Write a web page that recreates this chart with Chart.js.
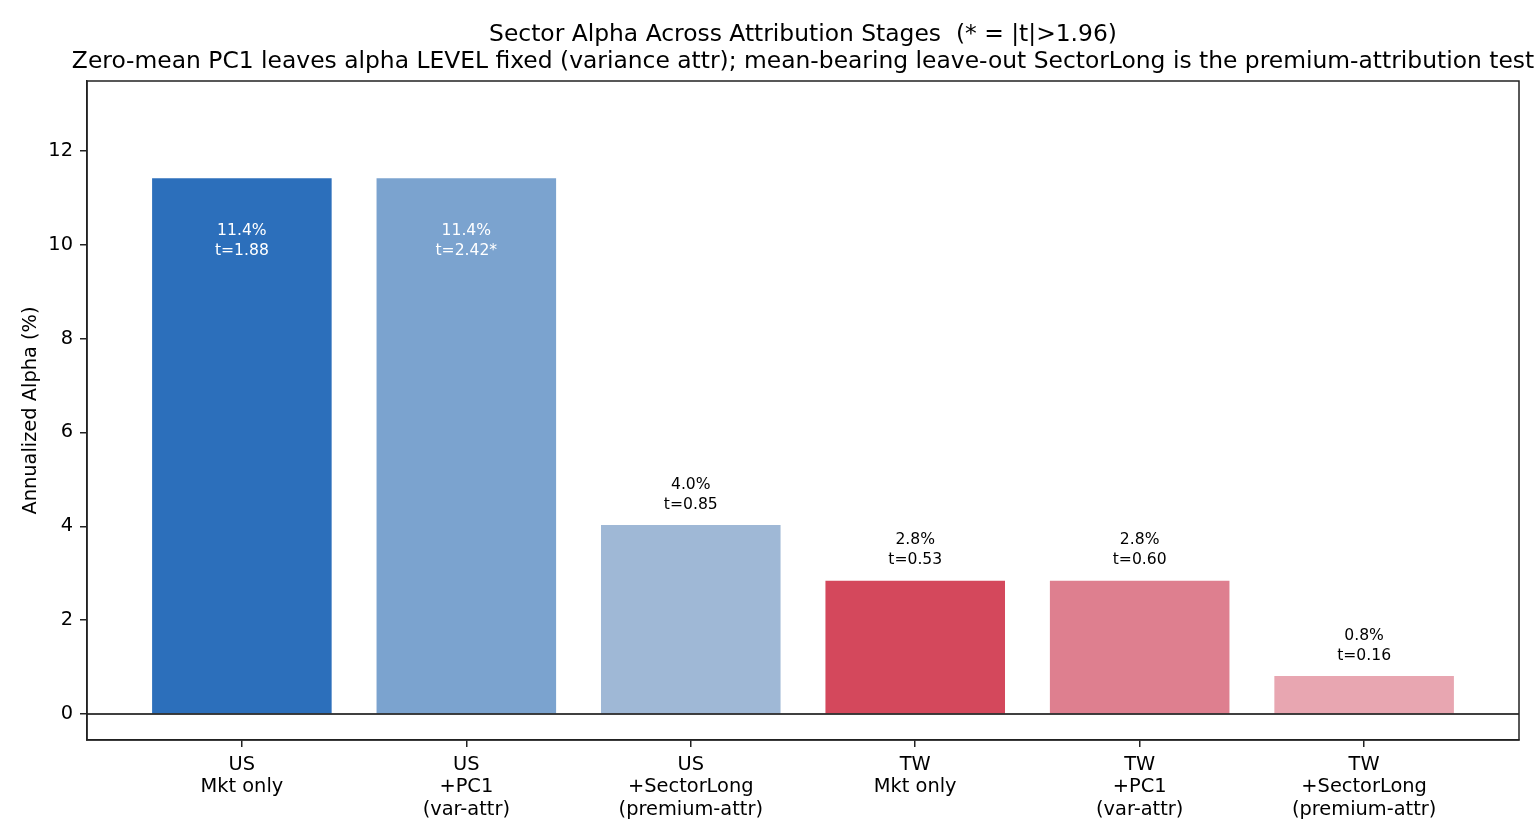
<!DOCTYPE html>
<html>
<head>
<meta charset="utf-8">
<script src="https://cdn.jsdelivr.net/npm/chart.js@4.4.1/dist/chart.umd.min.js"></script>
<style>
  html, body { margin: 0; padding: 0; background: #fff; }
  canvas { display: block; }
</style>
</head>
<body>
<canvas id="alphaChart" width="1540" height="840"></canvas>
<script>
// data
const stageLabels = [
  ['US', 'Mkt only'],
  ['US', '+PC1', '(var-attr)'],
  ['US', '+SectorLong', '(premium-attr)'],
  ['TW', 'Mkt only'],
  ['TW', '+PC1', '(var-attr)'],
  ['TW', '+SectorLong', '(premium-attr)']
];
const alphaValues = [11.42, 11.42, 4.03, 2.84, 2.84, 0.81];
const tStats = [1.88, 2.42, 0.85, 0.53, 0.60, 0.16];
const barColors = ['#2c6fbb', '#7ba3cf', '#9fb8d6', '#d4485c', '#de7f8f', '#e8a6b1'];
const yTicks = [0, 2, 4, 6, 8, 10, 12];
const titleLines = [
  'Sector Alpha Across Attribution Stages  (* = |t|>1.96)',
  'Zero-mean PC1 leaves alpha LEVEL fixed (variance attr); mean-bearing leave-out SectorLong is the premium-attribution test'
];

const FONT = 'DejaVu Sans';

// two-line title centred over the axes (allowed to run past the plot edges)
const axesTitle = {
  id: 'axesTitle',
  afterDraw(chart) {
    const ctx = chart.ctx;
    const a = chart.chartArea;
    const cx = (a.left + a.right) / 2;
    ctx.save();
    ctx.font = '23.4px "' + FONT + '"';
    ctx.fillStyle = '#000';
    ctx.textAlign = 'center';
    ctx.textBaseline = 'middle';
    ctx.fillText(titleLines[0], cx, a.top - 46);
    ctx.fillText(titleLines[1], cx, a.top - 19);
    ctx.restore();
  }
};

// bar labels: inside (white) for tall bars, above for short ones
const barLabels = {
  id: 'barLabels',
  afterDatasetsDraw(chart) {
    const ctx = chart.ctx;
    const y = chart.scales.y;
    const meta = chart.getDatasetMeta(0);
    ctx.save();
    ctx.font = '15.6px "' + FONT + '"';
    ctx.textAlign = 'center';
    meta.data.forEach((bar, i) => {
      const v = alphaValues[i];
      const star = Math.abs(tStats[i]) > 1.96 ? '*' : '';
      const lines = [v.toFixed(1) + '%', 't=' + tStats[i].toFixed(2) + star];
      const lh = 20;
      let mid;
      if (v > 6) {
        ctx.fillStyle = '#ffffff';
        mid = y.getPixelForValue(v * 0.88) - 1;
      } else {
        ctx.fillStyle = '#000000';
        mid = y.getPixelForValue(v + 0.22) - lh;
      }
      ctx.textBaseline = 'middle';
      ctx.fillText(lines[0], bar.x, mid - lh / 2);
      ctx.fillText(lines[1], bar.x, mid + lh / 2);
    });
    ctx.restore();
  }
};

// zero line and the full axes box
const frame = {
  id: 'frame',
  afterDatasetsDraw(chart) {
    const ctx = chart.ctx;
    const a = chart.chartArea;
    const y0 = Math.round(chart.scales.y.getPixelForValue(0));
    ctx.save();
    ctx.strokeStyle = '#000';
    ctx.lineWidth = 1.4;
    ctx.beginPath();
    ctx.moveTo(a.left, y0);
    ctx.lineTo(a.right, y0);
    ctx.stroke();
    ctx.strokeStyle = '#222';
    ctx.lineWidth = 1.5;
    ctx.strokeRect(a.left, a.top, a.right - a.left, a.bottom - a.top);
    ctx.restore();
  }
};

new Chart(document.getElementById('alphaChart').getContext('2d'), {
  type: 'bar',
  data: {
    datasets: [{
      data: alphaValues.map((v, i) => ({ x: i, y: v })),
      backgroundColor: barColors,
      borderWidth: 0,
      barPercentage: 0.8,
      categoryPercentage: 1.0
    }]
  },
  options: {
    responsive: false,
    animation: false,
    layout: { padding: { left: 0, right: 21, top: 81, bottom: 0 } },
    plugins: {
      legend: { display: false },
      tooltip: { enabled: false },
      title: { display: false }
    },
    scales: {
      x: {
        type: 'linear',
        offset: false,
        min: -0.69,
        max: 5.69,
        afterBuildTicks(scale) {
          scale.ticks = stageLabels.map((_, i) => ({ value: i }));
        },
        afterFit(scale) { scale.height = 100; },
        grid: { offset: false, drawOnChartArea: false, drawTicks: true, tickLength: 7, color: '#222', lineWidth: 1.5 },
        border: { display: true, color: '#222', width: 1.5 },
        ticks: {
          color: '#000',
          padding: 7,
          maxRotation: 0,
          autoSkip: false,
          font: { family: FONT, size: 19.4, lineHeight: 1.15 },
          callback: (value) => stageLabels[value] || ''
        }
      },
      y: {
        min: -0.554,
        max: 13.49,
        afterBuildTicks(scale) {
          scale.ticks = yTicks.map(v => ({ value: v }));
        },
        afterFit(scale) { scale.width = 87; },
        grid: { drawOnChartArea: false, drawTicks: true, tickLength: 7, color: '#222', lineWidth: 1.5 },
        border: { display: true, color: '#222', width: 1.5 },
        ticks: {
          color: '#000',
          padding: 7,
          font: { family: FONT, size: 19.4 },
          callback: (value) => String(value)
        },
        title: {
          display: true,
          text: 'Annualized Alpha (%)',
          color: '#000',
          font: { family: FONT, size: 19.4, lineHeight: 1.2 },
          padding: { top: 19, bottom: 0 }
        }
      }
    }
  },
  plugins: [barLabels, frame, axesTitle]
});
</script>
</body>
</html>
